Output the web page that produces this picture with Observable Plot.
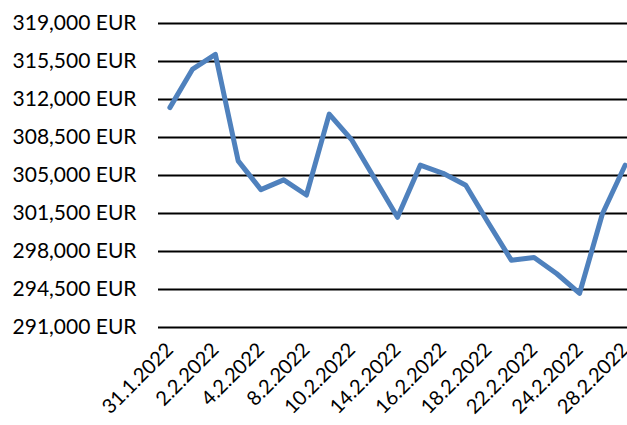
<!DOCTYPE html>
<html><head><meta charset="utf-8">
<script src="https://cdn.jsdelivr.net/npm/d3@7"></script>
<script src="https://cdn.jsdelivr.net/npm/@observablehq/plot@0.6"></script>
<style>body{margin:0;background:#fff;overflow:hidden}</style>
</head><body><div id="chart"></div>
<script>
const dates = ["31.1.2022","1.2.2022","2.2.2022","3.2.2022","4.2.2022","7.2.2022","8.2.2022","9.2.2022","10.2.2022","11.2.2022","14.2.2022","15.2.2022","16.2.2022","17.2.2022","18.2.2022","21.2.2022","22.2.2022","23.2.2022","24.2.2022","25.2.2022","28.2.2022"];
const values = [311250,314800,316150,306350,303700,304600,303200,310650,308250,304700,301150,305950,305200,304100,300600,297200,297450,295950,294150,301450,305950];
const tickLabels = ["31.1.2022","2.2.2022","4.2.2022","8.2.2022","10.2.2022","14.2.2022","16.2.2022","18.2.2022","22.2.2022","24.2.2022","28.2.2022"];
const yTicks = [291000,294500,298000,301500,305000,308500,312000,315500,319000];

const data = dates.map((d,i)=>({date:d, value:values[i]}));
const fmt = v => d3.format(",")(v) + " EUR";

const chart = Plot.plot({
  width: 627, height: 425,
  marginLeft: 158, marginRight: -9, marginTop: 23, marginBottom: 98,
  style: {fontFamily: "Lato, sans-serif", fontSize: "21px", color: "#000", background: "#fff", overflow: "hidden"},
  x: {type: "point", domain: dates, padding: 0.5, round: false},
  y: {domain: [291000, 319000]},
  marks: [
    Plot.ruleY(yTicks, {stroke: "#000", strokeWidth: 2}),
    Plot.axisY({ticks: yTicks, tickFormat: fmt, tickSize: 0, tickPadding: 22, label: null, fontSize: 21}),
    Plot.axisX({ticks: tickLabels, tickRotate: -45, tickSize: 0, tickPadding: 19, label: null, fontSize: 20}),
    Plot.line(data, {x: "date", y: "value", stroke: "#4F81BD", strokeWidth: 5, strokeLinejoin: "round", strokeLinecap: "round"})
  ]
});
document.getElementById("chart").appendChild(chart);
</script></body></html>
